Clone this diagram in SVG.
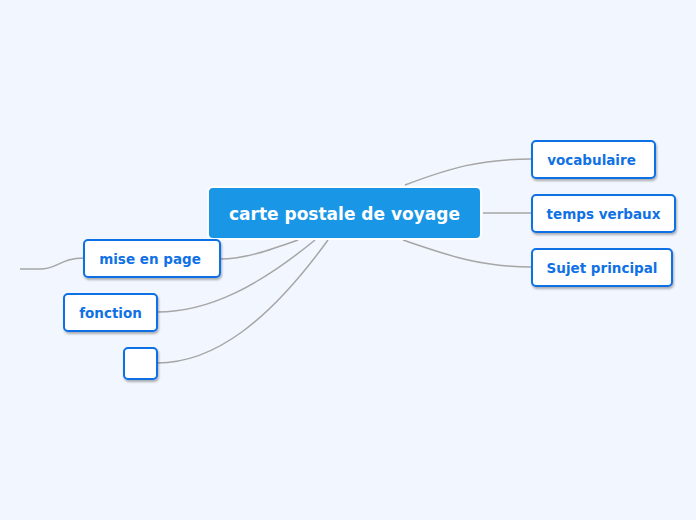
<svg xmlns="http://www.w3.org/2000/svg" width="696" height="520" viewBox="0 0 696 520">
<defs>
<filter id="sh" x="-20%" y="-20%" width="140%" height="160%">
<feDropShadow dx="1" dy="2" stdDeviation="1.2" flood-color="#000" flood-opacity="0.3"/>
</filter>
<style>
.n rect{fill:#fff;stroke:#1071e5;stroke-width:2;filter:url(#sh)}
.n text{font-family:"DejaVu Sans",sans-serif;font-weight:bold;font-size:13.5px;fill:#1071e5;text-anchor:middle}
.c path{fill:none;stroke:#a6a6a6;stroke-width:1.5}
</style>
</defs>
<rect width="696" height="520" fill="#f2f6fe"/>
<g class="c">
<path d="M405,185 C450,168 480,159 532,159"/>
<path d="M483,213 L532,213"/>
<path d="M403,240 C450,256 480,267 532,267"/>
<path d="M298,240 C270,250 245,259 220,259"/>
<path d="M315,240 C260,285 210,312 157,312" stroke-width="2"/>
<path d="M328,240 C270,320 215,363 157,363" stroke-width="2.2"/>
<path d="M84,258 C60,258 58,269 40,269 L20,269" stroke-width="1"/>
</g>
<g id="center">
<rect x="208" y="187" width="273" height="52" rx="5" fill="#1a96e6" stroke="#fff" stroke-width="2"/>
<text x="344.5" y="220" font-family="DejaVu Sans,sans-serif" font-weight="bold" font-size="17" fill="#fff" text-anchor="middle">carte postale de voyage</text>
</g>
<g id="vocabulaire" class="n">
<rect x="532" y="141" width="123" height="37" rx="4"/>
<text x="591.5" y="164.5">vocabulaire</text>
</g>
<g id="temps-verbaux" class="n">
<rect x="532" y="195" width="143" height="37" rx="4"/>
<text x="603.5" y="218.5">temps verbaux</text>
</g>
<g id="sujet-principal" class="n">
<rect x="532" y="249" width="140" height="37" rx="4"/>
<text x="602" y="272.5">Sujet principal</text>
</g>
<g id="mise-en-page" class="n">
<rect x="84" y="240" width="136" height="37" rx="4"/>
<text x="150" y="263.5">mise en page</text>
</g>
<g id="fonction" class="n">
<rect x="64" y="294" width="93" height="37" rx="4"/>
<text x="110.5" y="317.5">fonction</text>
</g>
<g id="empty" class="n">
<rect x="124" y="348" width="33" height="31" rx="4"/>
</g>
</svg>
